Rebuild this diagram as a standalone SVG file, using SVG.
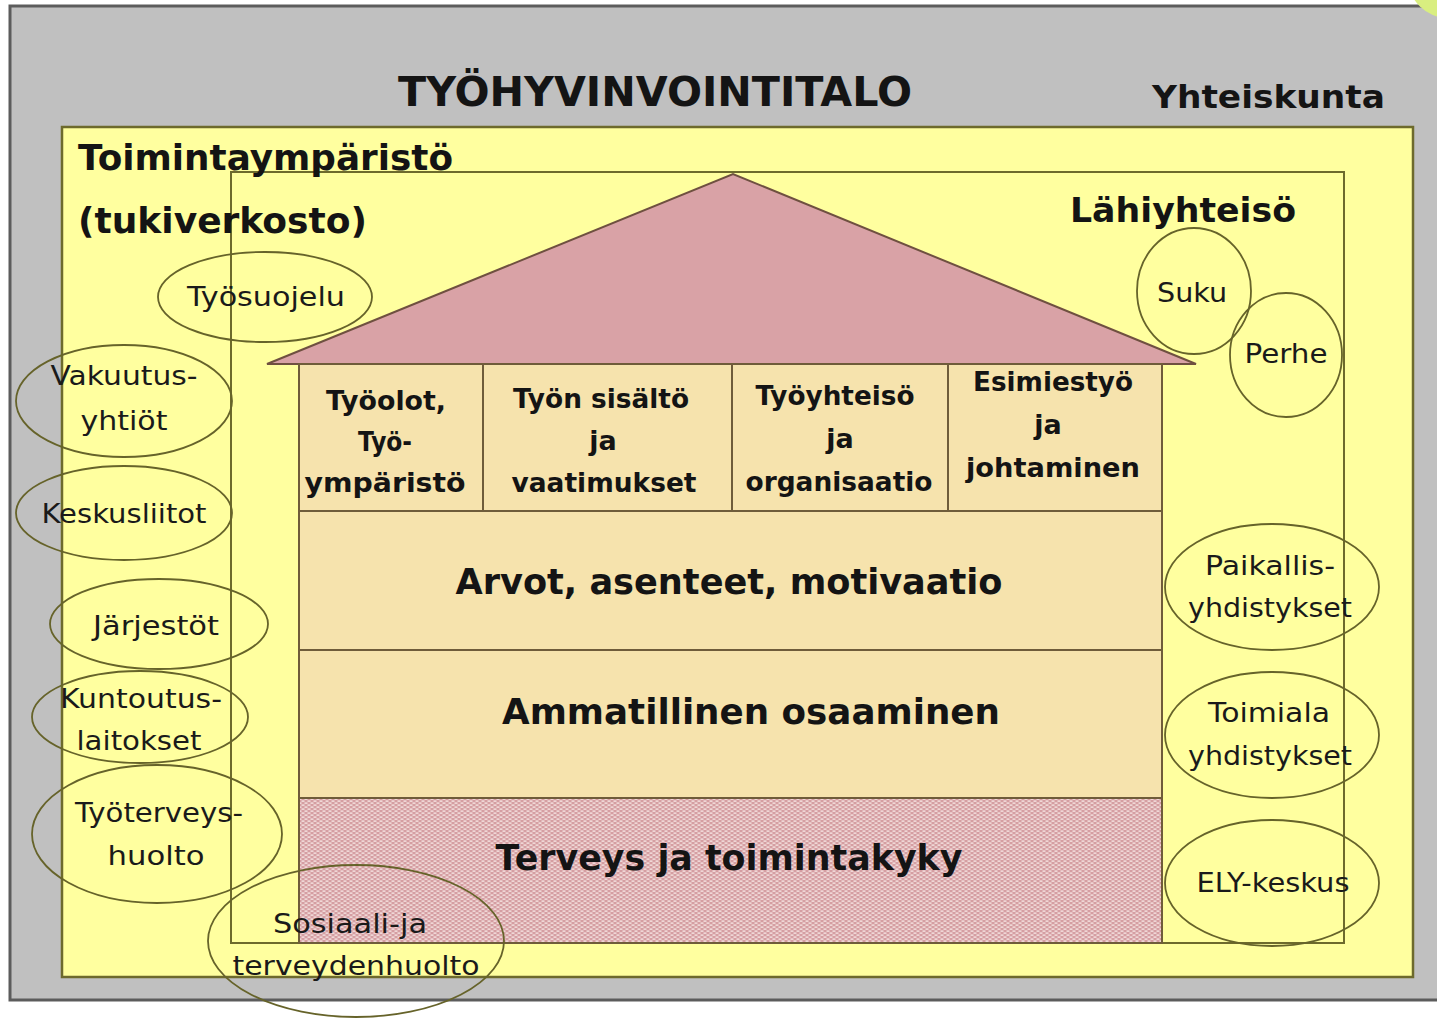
<svg xmlns="http://www.w3.org/2000/svg" width="1437" height="1020" viewBox="0 0 1437 1020">
<defs>
<pattern id="hatch" width="6" height="4" patternUnits="userSpaceOnUse">
<rect width="6" height="4" fill="#d59ea2"/>
<rect x="1.5" y="0.5" width="3" height="1.2" fill="#fbefec"/>
<rect x="-1.5" y="2.5" width="3" height="1.2" fill="#fbefec"/>
<rect x="4.5" y="2.5" width="3" height="1.2" fill="#fbefec"/>
</pattern>
<style>
.b{font-family:"DejaVu Sans","Verdana",sans-serif;font-weight:bold;fill:#141414}
.r{font-family:"DejaVu Sans","Verdana",sans-serif;fill:#1a1a1a;font-size:26px}
.h{font-size:27px}
.ell{fill:none;stroke:#66632a;stroke-width:1.8}
.box{fill:#f6e3ad;stroke:#6f5c3a;stroke-width:2}
</style>
</defs>
<rect width="1437" height="1020" fill="#ffffff"/>
<g id="frame">
<rect x="10" y="6" width="1440" height="994" fill="#c0c0c0" stroke="#5c5c5c" stroke-width="3"/>
<circle cx="1448" cy="-22" r="40" fill="#d9ee80"/>
<rect x="62" y="127" width="1351" height="850" fill="#ffff9f" stroke="#6d6a2c" stroke-width="2.5"/>
<rect x="231" y="172" width="1113" height="771" fill="none" stroke="#6d6a2c" stroke-width="2"/>
</g>
<g id="titles">
<text class="b" x="398" y="106" font-size="41" textLength="514" lengthAdjust="spacingAndGlyphs">TYÖHYVINVOINTITALO</text>
<text class="b" x="1152" y="108" font-size="32" textLength="233" lengthAdjust="spacingAndGlyphs">Yhteiskunta</text>
<text class="b" x="78" y="170" font-size="35" textLength="375" lengthAdjust="spacingAndGlyphs">Toimintaympäristö</text>
<text class="b" x="78" y="233" font-size="35" textLength="289" lengthAdjust="spacingAndGlyphs">(tukiverkosto)</text>
<text class="b" x="1070" y="222" font-size="33" textLength="226" lengthAdjust="spacingAndGlyphs">Lähiyhteisö</text>
</g>
<g id="house">
<polygon points="267,364 733,174 1196,364" fill="#d9a2a6" stroke="#6f5040" stroke-width="2"/>
<g id="col1">
<rect class="box" x="299" y="364" width="184" height="147"/>
<text class="b h" x="386" y="410" text-anchor="middle" textLength="120" lengthAdjust="spacingAndGlyphs">Työolot,</text>
<text class="b h" x="385" y="451" text-anchor="middle" textLength="54" lengthAdjust="spacingAndGlyphs">Työ-</text>
<text class="b h" x="385" y="492" text-anchor="middle" textLength="161" lengthAdjust="spacingAndGlyphs">ympäristö</text>
</g>
<g id="col2">
<rect class="box" x="483" y="364" width="249" height="147"/>
<text class="b h" x="601" y="408" text-anchor="middle" textLength="176" lengthAdjust="spacingAndGlyphs">Työn sisältö</text>
<text class="b h" x="603" y="450" text-anchor="middle">ja</text>
<text class="b h" x="604" y="492" text-anchor="middle" textLength="185" lengthAdjust="spacingAndGlyphs">vaatimukset</text>
</g>
<g id="col3">
<rect class="box" x="732" y="364" width="216" height="147"/>
<text class="b h" x="835" y="405" text-anchor="middle" textLength="159" lengthAdjust="spacingAndGlyphs">Työyhteisö</text>
<text class="b h" x="840" y="448" text-anchor="middle">ja</text>
<text class="b h" x="839" y="491" text-anchor="middle" textLength="187" lengthAdjust="spacingAndGlyphs">organisaatio</text>
</g>
<g id="col4">
<rect class="box" x="948" y="364" width="214" height="147"/>
<text class="b h" x="1053" y="391" text-anchor="middle" textLength="160" lengthAdjust="spacingAndGlyphs">Esimiestyö</text>
<text class="b h" x="1048" y="434" text-anchor="middle">ja</text>
<text class="b h" x="1053" y="477" text-anchor="middle" textLength="174" lengthAdjust="spacingAndGlyphs">johtaminen</text>
</g>
<g id="arvot">
<rect class="box" x="299" y="511" width="863" height="139"/>
<text class="b" x="729" y="594" font-size="35" text-anchor="middle" textLength="547" lengthAdjust="spacingAndGlyphs">Arvot, asenteet, motivaatio</text>
</g>
<g id="ammatillinen">
<rect class="box" x="299" y="650" width="863" height="148"/>
<text class="b" x="751" y="724" font-size="35" text-anchor="middle" textLength="498" lengthAdjust="spacingAndGlyphs">Ammatillinen osaaminen</text>
</g>
<g id="terveys">
<rect x="299" y="798" width="863" height="145" fill="url(#hatch)" stroke="#6f5c3a" stroke-width="2"/>
<text class="b" x="729" y="870" font-size="35" text-anchor="middle" textLength="467" lengthAdjust="spacingAndGlyphs">Terveys ja toimintakyky</text>
</g>
</g>
<g id="connectors"/>
<g id="tyosuojelu">
<ellipse class="ell" cx="265" cy="297" rx="107" ry="45"/>
<text class="r" x="266" y="306" text-anchor="middle" textLength="158" lengthAdjust="spacingAndGlyphs">Työsuojelu</text>
</g>
<g id="vakuutusyhtiot">
<ellipse class="ell" cx="124" cy="401" rx="108" ry="56"/>
<text class="r" x="124" y="385" text-anchor="middle" textLength="147" lengthAdjust="spacingAndGlyphs">Vakuutus-</text>
<text class="r" x="124" y="430" text-anchor="middle" textLength="87" lengthAdjust="spacingAndGlyphs">yhtiöt</text>
</g>
<g id="keskusliitot">
<ellipse class="ell" cx="124" cy="513" rx="108" ry="47"/>
<text class="r" x="124" y="523" text-anchor="middle" textLength="165" lengthAdjust="spacingAndGlyphs">Keskusliitot</text>
</g>
<g id="jarjestot">
<ellipse class="ell" cx="159" cy="624" rx="109" ry="45"/>
<text class="r" x="156" y="635" text-anchor="middle" textLength="126" lengthAdjust="spacingAndGlyphs">Järjestöt</text>
</g>
<g id="kuntoutuslaitokset">
<ellipse class="ell" cx="140" cy="717" rx="108" ry="46"/>
<text class="r" x="141" y="708" text-anchor="middle" textLength="162" lengthAdjust="spacingAndGlyphs">Kuntoutus-</text>
<text class="r" x="139" y="750" text-anchor="middle" textLength="125" lengthAdjust="spacingAndGlyphs">laitokset</text>
</g>
<g id="tyoterveyshuolto">
<ellipse class="ell" cx="157" cy="834" rx="125" ry="69"/>
<text class="r" x="159" y="822" text-anchor="middle" textLength="168" lengthAdjust="spacingAndGlyphs">Työterveys-</text>
<text class="r" x="156" y="865" text-anchor="middle" textLength="97" lengthAdjust="spacingAndGlyphs">huolto</text>
</g>
<g id="sosiaali">
<ellipse class="ell" cx="356" cy="941" rx="148" ry="76" stroke="#4f4c30"/>
<text class="r" x="350" y="933" text-anchor="middle" textLength="154" lengthAdjust="spacingAndGlyphs">Sosiaali-ja</text>
<text class="r" x="356" y="975" text-anchor="middle" textLength="247" lengthAdjust="spacingAndGlyphs">terveydenhuolto</text>
</g>
<g id="suku">
<ellipse class="ell" cx="1194" cy="291" rx="57" ry="63"/>
<text class="r" x="1192" y="302" text-anchor="middle" textLength="70" lengthAdjust="spacingAndGlyphs">Suku</text>
</g>
<g id="perhe">
<ellipse class="ell" cx="1286" cy="355" rx="56" ry="62"/>
<text class="r" x="1286" y="363" text-anchor="middle" textLength="83" lengthAdjust="spacingAndGlyphs">Perhe</text>
</g>
<g id="paikallisyhdistykset">
<ellipse class="ell" cx="1272" cy="587" rx="107" ry="63"/>
<text class="r" x="1270" y="575" text-anchor="middle" textLength="130" lengthAdjust="spacingAndGlyphs">Paikallis-</text>
<text class="r" x="1270" y="617" text-anchor="middle" textLength="164" lengthAdjust="spacingAndGlyphs">yhdistykset</text>
</g>
<g id="toimialayhdistykset">
<ellipse class="ell" cx="1272" cy="735" rx="107" ry="63"/>
<text class="r" x="1269" y="722" text-anchor="middle" textLength="122" lengthAdjust="spacingAndGlyphs">Toimiala</text>
<text class="r" x="1270" y="765" text-anchor="middle" textLength="164" lengthAdjust="spacingAndGlyphs">yhdistykset</text>
</g>
<g id="elykeskus">
<ellipse class="ell" cx="1272" cy="883" rx="107" ry="63"/>
<text class="r" x="1273" y="892" text-anchor="middle" textLength="153" lengthAdjust="spacingAndGlyphs">ELY-keskus</text>
</g>
</svg>
